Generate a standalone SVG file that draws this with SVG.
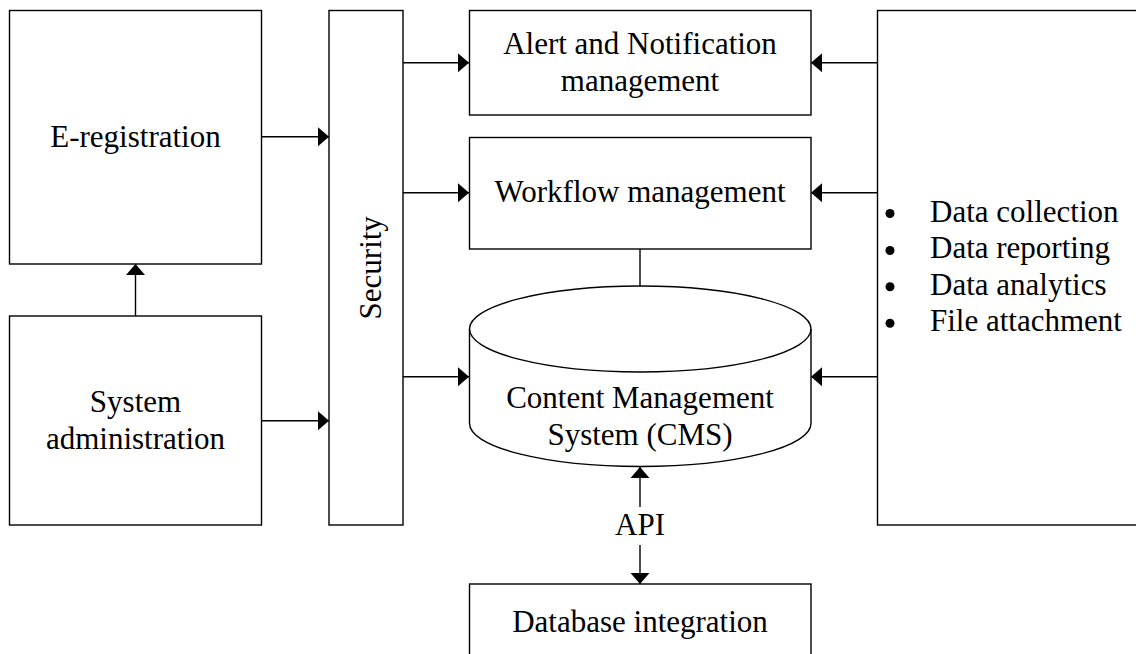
<svg xmlns="http://www.w3.org/2000/svg" width="1136" height="654" viewBox="0 0 1136 654">
  <style>
    .box { fill: #fff; stroke: #000; stroke-width: 1.4; }
    .line { fill: none; stroke: #000; stroke-width: 1.4; }
    .lbl { font-family: "Liberation Serif", "Times New Roman", serif; font-size: 31px; fill: #000; }
    .mid { text-anchor: middle; }
  </style>
  <defs>
    <marker id="arrow" markerUnits="userSpaceOnUse" markerWidth="12" markerHeight="20" refX="11" refY="10" orient="auto" viewBox="0 0 12 20">
      <path d="M0,0.5 L11,10 L0,19.5 Z" fill="#000"/>
    </marker>
  </defs>

  <rect width="1136" height="654" fill="#fff"/>

  <!-- connectors -->
  <g id="connectors">
    <!-- into the security layer -->
    <line class="line" x1="261" y1="136.7" x2="329" y2="136.7" marker-end="url(#arrow)"/>
    <line class="line" x1="261" y1="420.7" x2="329" y2="420.7" marker-end="url(#arrow)"/>
    <!-- system administration up to e-registration -->
    <line class="line" x1="135.5" y1="316" x2="135.5" y2="264" marker-end="url(#arrow)"/>
    <!-- security out to services -->
    <line class="line" x1="403" y1="62.7" x2="469" y2="62.7" marker-end="url(#arrow)"/>
    <line class="line" x1="403" y1="192.7" x2="469" y2="192.7" marker-end="url(#arrow)"/>
    <line class="line" x1="403" y1="376.7" x2="469" y2="376.7" marker-end="url(#arrow)"/>
    <!-- data functions into services -->
    <line class="line" x1="877.5" y1="62.7" x2="811" y2="62.7" marker-end="url(#arrow)"/>
    <line class="line" x1="877.5" y1="192.7" x2="811" y2="192.7" marker-end="url(#arrow)"/>
    <line class="line" x1="877.5" y1="376.7" x2="811" y2="376.7" marker-end="url(#arrow)"/>
    <!-- workflow to CMS -->
    <line class="line" x1="640" y1="249" x2="640" y2="286"/>
    <!-- API link -->
    <line class="line" x1="640" y1="507" x2="640" y2="467" marker-end="url(#arrow)"/>
    <line class="line" x1="640" y1="545" x2="640" y2="584" marker-end="url(#arrow)"/>
    <text class="lbl mid" x="640" y="535">API</text>
  </g>

  <g id="e-registration">
    <rect class="box" x="9.5" y="10.5" width="252" height="253.5"/>
    <text class="lbl mid" x="135.5" y="146.5">E-registration</text>
  </g>

  <g id="system-administration">
    <rect class="box" x="9.5" y="316" width="252" height="209"/>
    <text class="lbl mid" x="135.5" y="411.5">System</text>
    <text class="lbl mid" x="135.5" y="449">administration</text>
  </g>

  <g id="security">
    <rect class="box" x="329" y="10.5" width="74" height="514.5"/>
    <text class="lbl mid" transform="translate(381 267.8) rotate(-90)" x="0" y="0">Security</text>
  </g>

  <g id="alert-notification">
    <rect class="box" x="469.5" y="10.5" width="341.5" height="104.5"/>
    <text class="lbl mid" x="640" y="53.5">Alert and Notification</text>
    <text class="lbl mid" x="640" y="90.5">management</text>
  </g>

  <g id="workflow-management">
    <rect class="box" x="469.5" y="137.5" width="341.5" height="111.5"/>
    <text class="lbl mid" x="640" y="201.5">Workflow management</text>
  </g>

  <g id="cms">
    <path class="box" d="M469.5,329 A170.75,43 0 0 1 811,329 L811,423.5 A170.75,43 0 0 1 469.5,423.5 Z"/>
    <path class="line" d="M469.5,329 A170.75,43 0 0 0 811,329"/>
    <text class="lbl mid" x="640" y="407.5">Content Management</text>
    <text class="lbl mid" x="640" y="445">System (CMS)</text>
  </g>

  <g id="database-integration">
    <rect class="box" x="469.5" y="584" width="341.5" height="90"/>
    <text class="lbl mid" x="640" y="631.5">Database integration</text>
  </g>

  <g id="data-functions">
    <rect class="box" x="877.5" y="10.5" width="300" height="514.5"/>
    <circle cx="890" cy="213.5" r="4.5" fill="#000"/>
    <circle cx="890" cy="250.5" r="4.5" fill="#000"/>
    <circle cx="890" cy="286.8" r="4.5" fill="#000"/>
    <circle cx="890" cy="323.3" r="4.5" fill="#000"/>
    <text class="lbl" x="930" y="221.5">Data collection</text>
    <text class="lbl" x="930" y="258">Data reporting</text>
    <text class="lbl" x="930" y="294.5">Data analytics</text>
    <text class="lbl" x="930" y="331">File attachment</text>
  </g>
</svg>
